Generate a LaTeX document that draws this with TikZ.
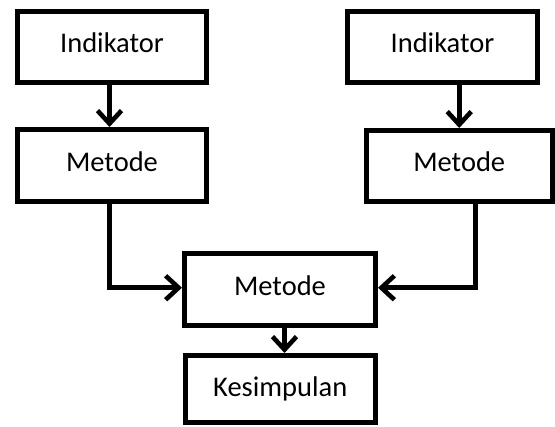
\documentclass[tikz,border=0pt]{standalone}
\usepackage{fontspec}
\setmainfont{Carlito}
\usetikzlibrary{arrows.meta}
\begin{document}
\begin{tikzpicture}[x=1pt,y=1pt,
  box/.style={draw=black, line width=5pt, inner sep=0pt, font=\fontsize{28.5}{30}\selectfont,
    text height=19pt, text depth=7pt},
  arr/.style={line width=4.6pt, -{Straight Barb[length=13pt,width=24pt]}}]
\useasboundingbox (0,0) rectangle (555,427);
\node[box, minimum width=189pt, minimum height=71pt] (ind1) at (112,380) {Indikator};
\node[box, minimum width=189pt, minimum height=72pt] (met1) at (112,261.5) {Metode};
\node[box, minimum width=190pt, minimum height=71pt] (ind2) at (442.5,380) {Indikator};
\node[box, minimum width=185.5pt, minimum height=71pt] (met2) at (459.25,261) {Metode};
\node[box, minimum width=191pt, minimum height=71.5pt] (met3) at (280,137.25) {Metode};
\node[box, minimum width=189.5pt, minimum height=67pt, text depth=4pt] (kes) at (280.25,38) {Kesimpulan};
\draw[arr] ([xshift=-2.5pt]ind1.south) -- ([xshift=-2.5pt]met1.north);
\draw[arr] (ind2.south -| met2.north) -- (met2.north);
\draw[arr] ([xshift=-2.5pt]met1.south) |- ([yshift=2pt]met3.west);
\draw[arr] ([xshift=16.25pt]met2.south) |- ([yshift=2pt]met3.east);
\draw[arr] ([xshift=4.5pt]met3.south) -- ([xshift=4.5pt]met3.south |- kes.north);
\end{tikzpicture}
\end{document}
